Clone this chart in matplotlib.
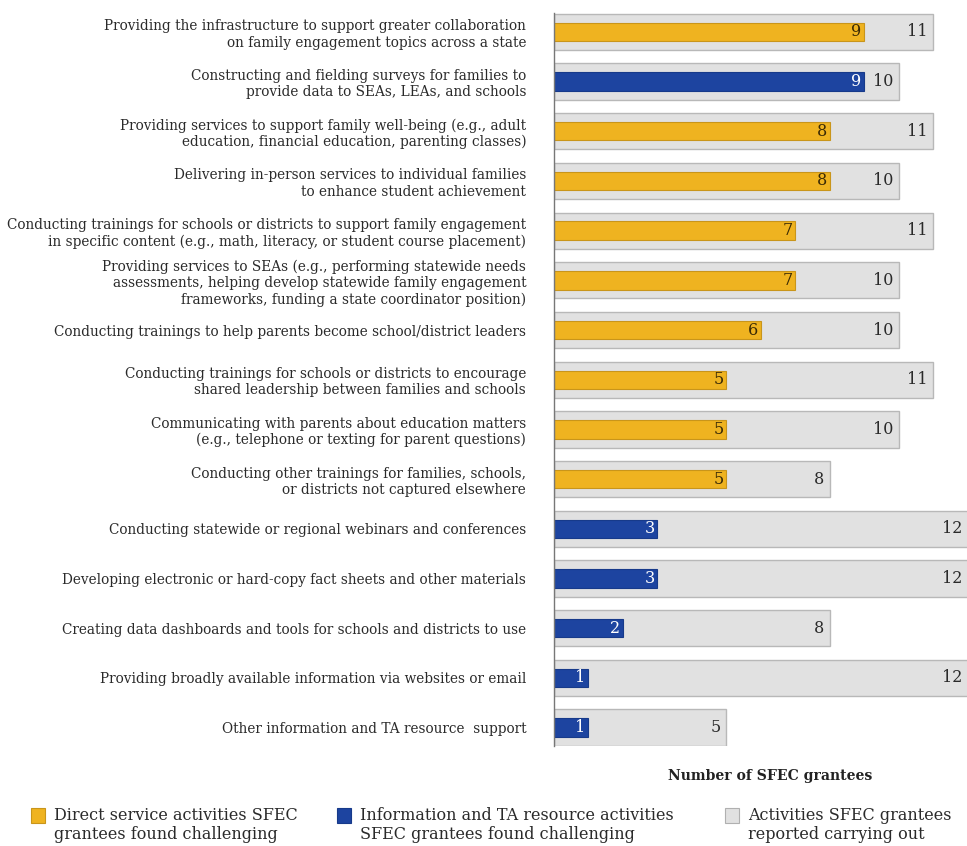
import matplotlib.pyplot as plt

plt.rcParams["font.family"] = ["DejaVu Serif"]

# Activities, top to bottom
activities = [
    "Providing the infrastructure to support greater collaboration\non family engagement topics across a state",
    "Constructing and fielding surveys for families to\nprovide data to SEAs, LEAs, and schools",
    "Providing services to support family well-being (e.g., adult\neducation, financial education, parenting classes)",
    "Delivering in-person services to individual families\nto enhance student achievement",
    "Conducting trainings for schools or districts to support family engagement\nin specific content (e.g., math, literacy, or student course placement)",
    "Providing services to SEAs (e.g., performing statewide needs\nassessments, helping develop statewide family engagement\nframeworks, funding a state coordinator position)",
    "Conducting trainings to help parents become school/district leaders",
    "Conducting trainings for schools or districts to encourage\nshared leadership between families and schools",
    "Communicating with parents about education matters\n(e.g., telephone or texting for parent questions)",
    "Conducting other trainings for families, schools,\nor districts not captured elsewhere",
    "Conducting statewide or regional webinars and conferences",
    "Developing electronic or hard-copy fact sheets and other materials",
    "Creating data dashboards and tools for schools and districts to use",
    "Providing broadly available information via websites or email",
    "Other information and TA resource  support",
]
carried_out = [11, 10, 11, 10, 11, 10, 10, 11, 10, 8, 12, 12, 8, 12, 5]
challenging = [9, 9, 8, 8, 7, 7, 6, 5, 5, 5, 3, 3, 2, 1, 1]
activity_type = ["direct", "info", "direct", "direct", "direct", "direct", "direct",
                 "direct", "direct", "direct", "info", "info", "info", "info", "info"]

GOLD = "#efb320"
BLUE = "#1d44a0"
GRAY = "#e1e1e1"
TEXT = "#2a2a2a"

fig = plt.figure(figsize=(9.67, 8.46), dpi=100)
ax = fig.add_axes([554 / 967, 100 / 846, 1 - 554 / 967 + 0.001, (746 - 13) / 846])

y = list(range(len(activities)))

# Gray bars: activities carried out
ax.barh(y, carried_out, height=0.73, color=GRAY, edgecolor="#b8b8b8", linewidth=1.0, zorder=1)

# Colored bars: activities found challenging
colors = [GOLD if t == "direct" else BLUE for t in activity_type]
edges = ["#c9951a" if t == "direct" else "#173a8a" for t in activity_type]
ax.barh(y, challenging, height=0.37, color=colors, edgecolor=edges, linewidth=0.8, zorder=2)

for i in y:
    ax.text(carried_out[i] - 0.17, i, str(carried_out[i]), ha="right", va="center",
            fontsize=11.5, color=TEXT, zorder=3)
    txt_color = "#3a2a05" if activity_type[i] == "direct" else "white"
    ax.text(challenging[i] - 0.08, i, str(challenging[i]), ha="right", va="center",
            fontsize=11.5, color=txt_color, zorder=3)

ax.set_xlim(0, 12)
ax.set_ylim(14.37, -0.38)
ax.set_yticks(y)
ax.set_yticklabels(activities, fontsize=9.8, color=TEXT, linespacing=1.2)
ax.tick_params(axis="y", length=0, pad=20)
ax.set_xticks([])

for side in ["top", "right", "bottom"]:
    ax.spines[side].set_visible(False)
ax.spines["left"].set_color("#777777")
ax.spines["left"].set_linewidth(1.0)

fig.text(770 / 967, 1 - 776 / 846, "Number of SFEC grantees", ha="center", va="center",
         fontsize=10.1, fontweight="bold", color="#222222")

# Legend
legend_items = [
    (31, GOLD, "#c9951a", "Direct service activities SFEC\ngrantees found challenging"),
    (337, BLUE, "#173a8a", "Information and TA resource activities\nSFEC grantees found challenging"),
    (725, GRAY, "#b0b0b0", "Activities SFEC grantees\nreported carrying out"),
]
for x0, face, edge, label in legend_items:
    fig.patches.append(plt.Rectangle((x0 / 967, 1 - 823 / 846), 14 / 967, 15 / 846,
                                     transform=fig.transFigure, facecolor=face,
                                     edgecolor=edge, linewidth=0.8))
    fig.text((x0 + 23) / 967, 1 - 825 / 846, label, ha="left", va="center",
             fontsize=11.5, color=TEXT, linespacing=1.1)

fig.savefig("out.png", dpi=100)
